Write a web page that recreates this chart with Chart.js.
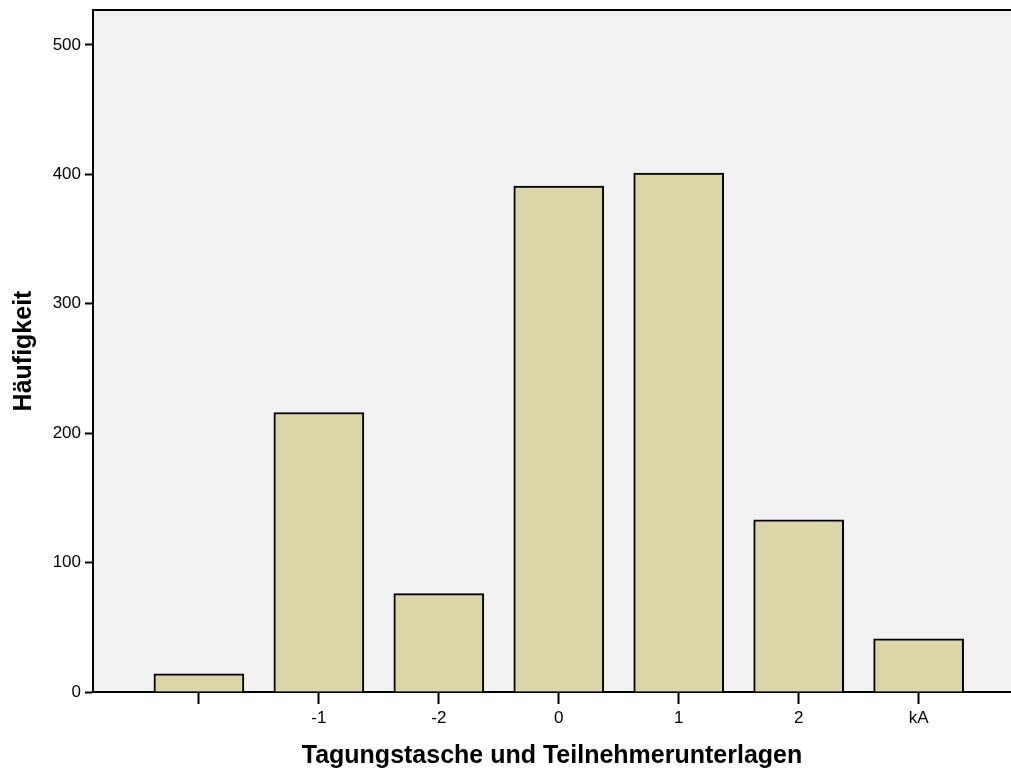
<!DOCTYPE html>
<html>
<head>
<meta charset="utf-8">
<script src="https://cdn.jsdelivr.net/npm/chart.js@4"></script>
<style>
  html, body { margin: 0; padding: 0; background: #fff; overflow: hidden; }
  #wrap { width: 1011px; height: 771px; }
</style>
</head>
<body>
<div id="wrap"><canvas id="grafico"></canvas></div>
<script>
(() => {
  'use strict'

  const categories = ['', '-1', '-2', '0', '1', '2', 'kA']
  const counts = [14, 216, 76, 391, 401, 133, 41]
  const yTicks = [0, 100, 200, 300, 400, 500]

  const font = 'Arial, "Liberation Sans", sans-serif'

  // grey plot background with a black top edge
  const plotFrame = {
    id: 'plotFrame',
    beforeDraw(chart) {
      const { ctx, chartArea: a } = chart
      ctx.save()
      ctx.fillStyle = '#f2f2f2'
      ctx.fillRect(a.left, a.top, a.right - a.left, a.bottom - a.top)
      ctx.strokeStyle = '#000'
      ctx.lineWidth = 2
      ctx.beginPath()
      ctx.moveTo(a.left, a.top)
      ctx.lineTo(a.right, a.top)
      ctx.stroke()
      ctx.restore()
    }
  }

  const ctx = document.getElementById('grafico')
  // eslint-disable-next-line no-unused-vars
  const chart = new Chart(ctx, {
    type: 'bar',
    data: {
      datasets: [{
        data: categories.map((c, i) => ({ x: i, y: counts[i] })),
        backgroundColor: '#dcd5a8',
        borderColor: '#000',
        borderWidth: 2,
        barThickness: 90
      }]
    },
    options: {
      responsive: true,
      maintainAspectRatio: false,
      animation: false,
      layout: { padding: { top: 10, right: 0, left: 0, bottom: 0 } },
      plugins: {
        legend: { display: false },
        tooltip: { enabled: false }
      },
      scales: {
        x: {
          type: 'linear',
          offset: false,
          min: -0.883,
          max: 6.77,
          afterFit: (s) => {
            s.height = 79
            s.paddingLeft = 0
            s.paddingRight = 0
          },
          afterBuildTicks: (s) => {
            s.ticks = categories.map((c, i) => ({ value: i }))
          },
          ticks: {
            stepSize: 1,
            includeBounds: false,
            color: '#000',
            font: { family: font, size: 17 },
            padding: 4,
            maxRotation: 0,
            callback: (v) => categories[v]
          },
          grid: {
            offset: false,
            drawOnChartArea: false,
            tickLength: 12,
            tickColor: '#000',
            tickWidth: 2
          },
          border: { color: '#000', width: 2 },
          title: {
            display: true,
            text: 'Tagungstasche und Teilnehmerunterlagen',
            color: '#000',
            font: { family: font, size: 25, weight: 'bold' },
            padding: { top: 4, bottom: 0 }
          }
        },
        y: {
          min: 0,
          max: 527,
          afterFit: (s) => {
            s.width = 93
            s.paddingTop = 0
            s.paddingBottom = 0
          },
          afterBuildTicks: (s) => {
            s.ticks = yTicks.map((v) => ({ value: v }))
          },
          ticks: {
            color: '#000',
            font: { family: font, size: 17 },
            padding: 4
          },
          grid: {
            drawOnChartArea: false,
            tickLength: 8,
            tickColor: '#000',
            tickWidth: 2
          },
          border: { color: '#000', width: 2 },
          title: {
            display: true,
            text: 'Häufigkeit',
            color: '#000',
            font: { family: font, size: 25, weight: 'bold' },
            padding: { top: 9 }
          }
        }
      }
    },
    plugins: [plotFrame]
  })
})()
</script>
</body>
</html>
